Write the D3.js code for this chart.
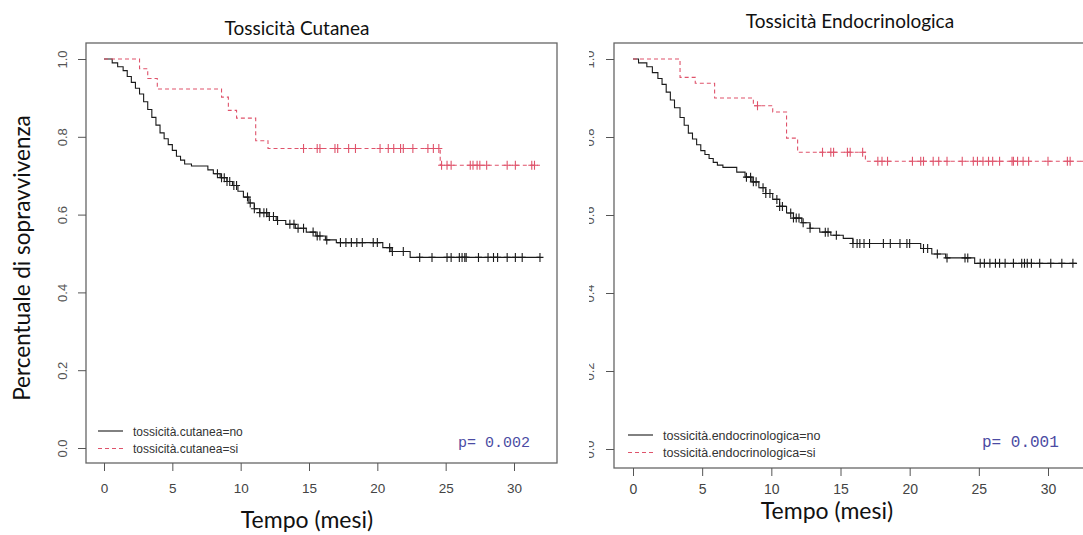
<!DOCTYPE html>
<html>
<head>
<meta charset="utf-8">
<script src="https://cdn.jsdelivr.net/npm/d3@7"></script>
<style>
  body { margin: 0; background: #fff; }
  svg { display: block; }
</style>
</head>
<body>
<svg id="chart" width="1083" height="535"></svg>
<script>
// axis ticks
const xTicks = [0, 5, 10, 15, 20, 25, 30]
const yTicks = [0, 0.2, 0.4, 0.6, 0.8, 1.0]

// Tossicità Cutanea, group "no" (event times / survival after step)
const cutNoTime = [0, 0.6, 1.0, 1.4, 1.7, 2.0, 2.3, 2.6, 2.9, 3.2, 3.5, 3.8, 4.1, 4.4, 4.7, 5.0, 5.3, 5.6, 5.9, 6.4,
  7.6, 8.0, 8.5, 9.0, 9.4, 9.8, 10.2, 10.6, 11.0, 11.4, 12.0, 12.6, 13.3, 14.0, 14.8, 15.5, 16.2, 17.0, 20.4, 21.0, 22.4]
const cutNoSurv = [1.0, 0.99, 0.98, 0.97, 0.955, 0.94, 0.925, 0.91, 0.89, 0.87, 0.85, 0.83, 0.81, 0.795, 0.78, 0.765, 0.75, 0.74, 0.73, 0.725,
  0.715, 0.705, 0.695, 0.685, 0.675, 0.66, 0.645, 0.63, 0.615, 0.605, 0.595, 0.585, 0.575, 0.565, 0.555, 0.545, 0.535, 0.528, 0.515, 0.505, 0.49]
const cutNoCens = [8.3, 8.6, 8.8, 9.0, 9.2, 9.5, 9.7, 10.5, 10.7, 11.0, 11.4, 11.7, 11.9, 12.1, 12.4, 12.7, 13.6, 13.9, 14.2, 14.6,
  15.3, 15.6, 15.8, 16.3, 17.3, 17.7, 18.1, 18.5, 18.9, 19.7, 20.0, 20.9, 21.1, 21.9, 23.1, 24.0, 25.1, 25.4, 26.0, 26.2, 26.4, 26.5,
  27.4, 28.1, 28.5, 28.8, 29.5, 30.1, 30.6, 31.9]

// Tossicità Cutanea, group "si"
const cutSiTime = [0, 2.6, 3.2, 3.9, 8.6, 9.1, 9.7, 11.1, 12.0, 24.6]
const cutSiSurv = [1.0, 0.975, 0.95, 0.923, 0.902, 0.868, 0.848, 0.79, 0.77, 0.727]
const cutSiCens = [14.6, 15.6, 15.8, 16.9, 17.1, 17.9, 18.4, 20.2, 20.8, 21.2, 21.7, 21.9, 22.6, 23.7, 24.1, 24.5,
  24.7, 25.1, 25.4, 26.8, 27.0, 27.3, 27.5, 28.0, 29.5, 30.1, 31.3, 31.5]

// Tossicità Endocrinologica, group "no"
const endNoTime = [0, 0.4, 1.0, 1.4, 1.8, 2.1, 2.4, 2.7, 3.0, 3.4, 3.7, 4.0, 4.3, 4.6, 4.9, 5.2, 5.5, 5.8, 6.1, 6.5,
  7.5, 8.1, 8.6, 9.1, 9.6, 10.1, 10.6, 11.1, 11.6, 12.2, 12.8, 13.5, 14.3, 15.2, 15.9, 20.8, 21.6, 22.6, 24.7]
const endNoSurv = [1.0, 0.99, 0.98, 0.965, 0.95, 0.935, 0.915, 0.895, 0.875, 0.85, 0.83, 0.81, 0.795, 0.78, 0.765, 0.755, 0.745, 0.735, 0.728, 0.722,
  0.71, 0.697, 0.685, 0.67, 0.655, 0.64, 0.622, 0.605, 0.592, 0.58, 0.566, 0.556, 0.548, 0.54, 0.527, 0.514, 0.50, 0.49, 0.476]
const endNoCens = [8.2, 8.5, 8.7, 8.9, 9.4, 9.6, 9.9, 10.4, 10.6, 10.8, 11.4, 11.6, 11.8, 12.0, 12.3, 12.8, 13.9, 14.1, 14.7,
  15.9, 16.2, 16.4, 16.7, 17.1, 18.1, 18.6, 19.3, 19.8, 20.0, 21.0, 21.3, 22.0, 22.7, 24.0, 24.2, 25.1, 25.4, 25.8, 26.2, 26.5,
  26.9, 27.5, 28.1, 28.3, 28.5, 28.8, 29.4, 30.2, 31.0, 31.8]

// Tossicità Endocrinologica, group "si"
const endSiTime = [0, 3.4, 4.5, 5.9, 8.7, 10.1, 11.1, 11.9, 16.8]
const endSiSurv = [1.0, 0.953, 0.938, 0.90, 0.88, 0.864, 0.797, 0.761, 0.738]
const endSiCens = [9.0, 13.7, 14.3, 14.5, 15.5, 15.7, 16.6,
  17.7, 18.0, 18.4, 20.2, 20.8, 21.0, 21.7, 22.1, 22.7, 23.8, 24.6, 24.9, 25.3, 25.7, 26.0, 26.5, 27.4, 27.5, 27.8, 28.2, 28.6,
  30.0, 31.4, 31.6, 32.6]

const panels = [
  {
    title: 'Tossicità Cutanea', titleX: 297, titleY: 35,
    box: [86, 43, 557, 463], xr: [104, 514], yr: [448, 59],
    legend: ['tossicità.cutanea=no', 'tossicità.cutanea=si'], legX: 98, legY: 431, legSize: 12,
    pval: 'p= 0.002', pX: 458, pY: 447, pSize: 15,
    xlabY: 493, xlabSize: 13.5, tempoX: 307, tempoY: 528, yLabShift: -19,
    groups: [
      { time: cutNoTime, surv: cutNoSurv, cens: cutNoCens, end: 31.9, color: '#1a1a1a', dash: null },
      { time: cutSiTime, surv: cutSiSurv, cens: cutSiCens, end: 31.9, color: '#DF536B', dash: '4,3' }
    ]
  },
  {
    title: 'Tossicità Endocrinologica', titleX: 850, titleY: 28,
    box: [614, 43, 1100, 468], xr: [633, 1048], yr: [449, 59],
    legend: ['tossicità.endocrinologica=no', 'tossicità.endocrinologica=si'], legX: 628, legY: 435, legSize: 12.5,
    pval: 'p= 0.001', pX: 982, pY: 447, pSize: 16,
    xlabY: 494, xlabSize: 14, tempoX: 827, tempoY: 519, yLabShift: -20, clipTicks: 589,
    groups: [
      { time: endNoTime, surv: endNoSurv, cens: endNoCens, end: 32.1, color: '#1a1a1a', dash: null },
      { time: endSiTime, surv: endSiSurv, cens: endSiCens, end: 33.5, color: '#DF536B', dash: '4,3' }
    ]
  }
]

const svg = d3.select('#chart')

// survival value at time t (step function)
function survAt(g, t) {
  let i = d3.bisectRight(g.time, t) - 1
  return g.surv[Math.max(i, 0)]
}

panels.forEach((p, pi) => {
  const x = d3.scaleLinear().domain([0, 30]).range(p.xr)
  const y = d3.scaleLinear().domain([0, 1]).range(p.yr)
  const g = svg.append('g')

  g.append('text')
    .attr('x', p.titleX).attr('y', p.titleY)
    .attr('text-anchor', 'middle')
    .attr('font-family', 'Lato, "Open Sans", sans-serif')
    .attr('font-size', 19)
    .attr('fill', '#111')
    .text(p.title)

  g.append('rect')
    .attr('x', p.box[0]).attr('y', p.box[1])
    .attr('width', p.box[2] - p.box[0]).attr('height', p.box[3] - p.box[1])
    .attr('fill', 'none').attr('stroke', '#666').attr('stroke-width', 1.3)

  // x axis under the box
  const xAxis = g.append('g')
    .attr('transform', `translate(0,${p.box[3]})`)
    .call(d3.axisBottom(x).tickValues(xTicks).tickSize(8).tickPadding(4).tickFormat(d3.format('d')))
  xAxis.select('.domain').remove()
  xAxis.selectAll('line').attr('stroke', '#555')
  xAxis.selectAll('text')
    .attr('y', null).attr('dy', null)
    .attr('transform', `translate(0,${p.xlabY - p.box[3]})`)
    .attr('font-family', '"Liberation Sans", Arial, sans-serif')
    .attr('font-size', p.xlabSize)
    .attr('fill', '#444')

  // y axis left of the box (right panel's labels are cut in the original)
  const yWrap = g.append('g')
  if (p.clipTicks) {
    const cid = 'clipticks' + pi
    svg.append('clipPath').attr('id', cid)
      .append('rect').attr('x', p.clipTicks).attr('y', 0).attr('width', 200).attr('height', 535)
    yWrap.attr('clip-path', `url(#${cid})`)
  }
  const yAxis = yWrap.append('g')
    .attr('transform', `translate(${p.box[0]},0)`)
    .call(d3.axisLeft(y).tickValues(yTicks).tickSize(8).tickFormat(d3.format('.1f')))
  yAxis.select('.domain').remove()
  yAxis.selectAll('line').attr('stroke', '#555')
  yAxis.selectAll('text')
    .attr('x', null).attr('dy', null)
    .attr('transform', `translate(${p.yLabShift},0) rotate(-90)`)
    .attr('text-anchor', 'middle')
    .attr('font-family', '"Liberation Sans", Arial, sans-serif')
    .attr('font-size', 13)
    .attr('fill', '#555')

  // curves
  p.groups.forEach(gr => {
    const pts = gr.time.map((t, i) => [t, gr.surv[i]])
    pts.push([gr.end, gr.surv[gr.surv.length - 1]])
    const line = d3.line().x(d => x(d[0])).y(d => y(d[1])).curve(d3.curveStepAfter)
    g.append('path')
      .attr('d', line(pts))
      .attr('fill', 'none')
      .attr('stroke', gr.color)
      .attr('stroke-width', 1.1)
      .attr('stroke-dasharray', gr.dash)

    g.append('g').selectAll('path')
      .data(gr.cens).enter().append('path')
      .attr('d', d => {
        const cx = x(d), cy = y(survAt(gr, d))
        return `M${cx},${cy - 4.5}V${cy + 4.5}M${cx - 3.5},${cy}H${cx + 3.5}`
      })
      .attr('stroke', gr.color)
      .attr('stroke-width', 1.1)
  })

  // legend
  p.legend.forEach((lab, i) => {
    const gr = p.groups[i]
    const ly = p.legY + i * 17.5
    g.append('line')
      .attr('x1', p.legX).attr('x2', p.legX + 25)
      .attr('y1', ly).attr('y2', ly)
      .attr('stroke', gr.color).attr('stroke-width', 1.1)
      .attr('stroke-dasharray', gr.dash)
    g.append('text')
      .attr('x', p.legX + 35).attr('y', ly + 4.5)
      .attr('font-family', '"Liberation Sans", Arial, sans-serif')
      .attr('font-size', p.legSize)
      .attr('fill', '#333')
      .text(lab)
  })

  g.append('text')
    .attr('x', p.pX).attr('y', p.pY)
    .attr('font-family', '"Liberation Mono", "DejaVu Sans Mono", monospace')
    .attr('font-size', p.pSize)
    .attr('fill', '#4b4ba3')
    .text(p.pval)

  g.append('text')
    .attr('x', p.tempoX).attr('y', p.tempoY)
    .attr('text-anchor', 'middle')
    .attr('font-family', 'Lato, "Open Sans", sans-serif')
    .attr('font-size', 23)
    .attr('fill', '#111')
    .text('Tempo (mesi)')
})

svg.append('text')
  .attr('transform', 'translate(30,258) rotate(-90)')
  .attr('text-anchor', 'middle')
  .attr('font-family', 'Lato, "Open Sans", sans-serif')
  .attr('font-size', 22.5)
  .attr('fill', '#111')
  .text('Percentuale di sopravvivenza')
</script>
</body>
</html>
